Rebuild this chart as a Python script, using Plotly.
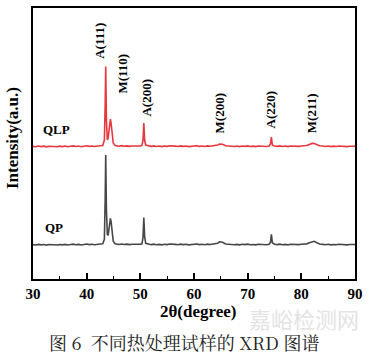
import plotly.graph_objects as go

# ---------------- data ----------------
# 2-theta (degree) and intensity (a.u.) for the QP sample
qp_two_theta = [30.0, 30.5, 31.0, 31.5, 32.0, 32.5, 33.0, 33.5, 34.0, 34.5, 35.0, 35.5, 36.0,
                36.5, 37.0, 37.5, 38.0, 38.5, 39.0, 39.5, 40.0, 40.5, 41.0, 41.5, 42.0, 42.5,
                43.0, 43.3, 43.45, 43.55, 43.68, 43.85, 44.0, 44.2, 44.42, 44.55, 44.75, 44.95, 45.3,
                45.5, 46.0, 46.5, 47.0, 47.5, 48.0, 48.5, 49.0, 49.5, 50.0,
                50.3, 50.5, 50.65, 50.8, 51.0,
                51.5, 52.0, 52.5, 53.0, 53.5, 54.0, 54.5, 55.0, 55.5, 56.0, 56.5, 57.0, 57.5,
                58.0, 58.5, 59.0, 59.5, 60.0, 60.5, 61.0, 61.5, 62.0, 62.5, 63.0, 63.5, 64.0,
                64.4, 64.8, 65.3, 65.9,
                66.5, 67.0, 67.5, 68.0, 68.5, 69.0, 69.5, 70.0, 70.5, 71.0, 71.5, 72.0, 72.5,
                73.0, 73.5, 74.0,
                74.25, 74.42, 74.6,
                75.0, 75.5, 76.0, 76.5, 77.0, 77.5, 78.0, 78.5, 79.0, 79.5, 80.0, 80.5, 81.0,
                81.5, 82.0, 82.4, 82.9, 83.4,
                84.0, 84.5, 85.0, 85.5, 86.0, 86.5, 87.0, 87.5, 88.0, 88.5, 89.0, 89.5, 90.0]
qp_intensity = [34.6, 34.2, 34.9, 34.4, 34.8, 34.1, 34.7, 34.5, 35.0, 34.3, 34.8, 34.4, 34.9,
                34.2, 34.7, 35.1, 34.5, 34.9, 34.3, 34.8, 35.2, 34.6, 35.0, 34.5, 35.1, 35.3,
                35.5, 40.0, 80.0, 125.0, 70.0, 45.0, 44.0, 52.0, 61.0, 58.0, 45.0, 38.0, 35.5,
                35.2, 34.8, 35.3, 34.7, 35.1, 34.6, 35.0, 34.8, 35.2, 35.0,
                35.5, 42.0, 62.0, 43.0, 36.0,
                35.0, 34.6, 35.1, 34.5, 34.9, 34.4, 35.0, 34.6, 35.2, 34.7, 34.9, 34.5, 35.1,
                34.6, 35.0, 34.4, 34.9, 34.7, 35.2, 34.6, 35.0, 34.5, 35.1, 34.8, 35.2, 35.0,
                36.0, 37.5, 37.0, 35.3,
                34.8, 35.1, 34.5, 34.9, 34.4, 35.0, 34.6, 35.1, 34.5, 34.8, 34.4, 35.0, 34.6,
                34.9, 34.5, 35.0,
                37.0, 45.0, 36.5,
                35.0, 34.6, 35.1, 34.5, 34.9, 34.4, 35.0, 34.7, 35.1, 34.6, 35.0, 35.2, 35.4,
                36.5, 37.8, 38.0, 36.5, 35.3,
                34.9, 34.5, 35.0, 34.4, 34.8, 34.5, 35.0, 34.6, 34.9, 34.4, 34.8, 34.6, 34.7]

# 2-theta (degree) and intensity (a.u.) for the QLP sample
qlp_two_theta = qp_two_theta
qlp_intensity = [133.6, 133.2, 133.9, 133.4, 133.8, 133.1, 133.7, 133.5, 134.0, 133.3, 133.8, 133.4, 133.9,
                 133.2, 133.7, 134.1, 133.5, 133.9, 133.3, 133.8, 134.2, 133.6, 134.0, 133.5, 134.1, 134.3,
                 134.5, 140.0, 175.0, 214.0, 160.0, 140.0, 142.0, 152.0, 161.0, 157.0, 143.0, 137.0, 134.5,
                 134.2, 133.8, 134.3, 133.7, 134.1, 133.6, 134.0, 133.8, 134.2, 134.0,
                 134.5, 140.0, 157.0, 140.0, 135.0,
                 134.0, 133.6, 134.1, 133.5, 133.9, 133.4, 134.0, 133.6, 134.2, 133.7, 133.9, 133.5, 134.1,
                 133.6, 134.0, 133.4, 133.9, 133.7, 134.2, 133.6, 134.0, 133.5, 134.1, 133.8, 134.2, 134.0,
                 135.0, 136.0, 135.8, 134.3,
                 133.8, 134.1, 133.5, 133.9, 133.4, 134.0, 133.6, 134.1, 133.5, 133.8, 133.4, 134.0, 133.6,
                 133.9, 133.5, 134.0,
                 136.0, 143.0, 135.0,
                 134.0, 133.6, 134.1, 133.5, 133.9, 133.4, 134.0, 133.7, 134.1, 133.6, 134.0, 134.2, 134.4,
                 135.5, 136.6, 136.5, 135.2, 134.3,
                 133.9, 133.5, 134.0, 133.4, 133.8, 133.5, 134.0, 133.6, 133.9, 133.4, 133.8, 133.6, 133.7]

peak_labels = ["A(111)", "M(110)", "A(200)", "M(200)", "A(220)", "M(211)"]
peak_label_x = [42.5, 46.6, 51.1, 64.7, 74.2, 81.8]
sample_names = ["QLP", "QP"]
sample_name_x = [34.4, 33.9]
x_tick_values = [30, 40, 50, 60, 70, 80, 90]

# ---------------- figure ----------------
SERIF = "Liberation Serif"
W, H = 378, 357
L, R, T, B = 33, 23, 6, 78
PW, PH = W - L - R, H - T - B


def py(pix):
    """paper y from a pixel row in the page"""
    return (H - B - pix) / PH


def px(pix):
    return (pix - L) / PW


fig = go.Figure()
fig.add_trace(go.Scatter(x=qlp_two_theta, y=qlp_intensity, mode="lines",
                         line=dict(color="#e8373d", width=1.6), showlegend=False))
fig.add_trace(go.Scatter(x=qp_two_theta, y=qp_intensity, mode="lines",
                         line=dict(color="#474747", width=1.6), showlegend=False))

label_y_pix = [39, 72, 96, 112, 108, 112]
for lab, xv, yp in zip(peak_labels, peak_label_x, label_y_pix):
    fig.add_annotation(x=xv, xref="x", y=py(yp), yref="paper", text=lab, textangle=-90,
                       showarrow=False, xanchor="center", yanchor="middle",
                       font=dict(family=SERIF, size=13, color="black", weight="bold"))

for name, xv, yp in zip(sample_names, sample_name_x, [128, 227]):
    fig.add_annotation(x=xv, xref="x", y=py(yp), yref="paper", text=name,
                       showarrow=False, xanchor="center", yanchor="middle",
                       font=dict(family=SERIF, size=13, color="black", weight="bold"))

# axis titles and caption
fig.add_annotation(x=px(12), xref="paper", y=py(137), yref="paper", text="Intensity(a.u.)",
                   textangle=-90, showarrow=False, xanchor="center", yanchor="middle",
                   font=dict(family=SERIF, size=17, color="black", weight="bold"))
fig.add_annotation(x=px(304), xref="paper", y=py(318), yref="paper", text="嘉峪检测网",
                   showarrow=False, xanchor="center", yanchor="middle", opacity=0.5,
                   font=dict(family="Noto Sans CJK SC", size=22, color="#c8c8c8"))
fig.add_annotation(x=px(198), xref="paper", y=py(312), yref="paper", text="2θ(degree)",
                   showarrow=False, xanchor="center", yanchor="middle",
                   font=dict(family=SERIF, size=17, color="black", weight="bold"))
fig.add_annotation(x=px(184), xref="paper", y=py(342), yref="paper",
                   text="图 6  不同热处理试样的 XRD 图谱",
                   showarrow=False, xanchor="center", yanchor="middle",
                   font=dict(family="Noto Serif CJK SC, Noto Sans CJK SC", size=18, color="#222222"))

fig.update_layout(
    width=W, height=H,
    margin=dict(l=L, r=R, t=T, b=B, pad=0),
    paper_bgcolor="white", plot_bgcolor="white",
    xaxis=dict(range=[30, 90], tickvals=x_tick_values, ticks="inside", ticklen=6,
               tickwidth=1.5, tickcolor="black",
               minor=dict(ticks="inside", ticklen=3, tickwidth=1.2, tickcolor="black", dtick=5),
               showline=True, linecolor="black", linewidth=2, mirror=True,
               showgrid=False, zeroline=False,
               tickfont=dict(family=SERIF, size=15, color="black", weight="bold")),
    yaxis=dict(range=[0, PH], showticklabels=False, ticks="", showline=True,
               linecolor="black", linewidth=2, mirror=True, showgrid=False, zeroline=False),
)

fig.write_html("out.html", config={"displayModeBar": False},
               post_script="document.body.style.margin='0';document.body.style.overflow='hidden';")
